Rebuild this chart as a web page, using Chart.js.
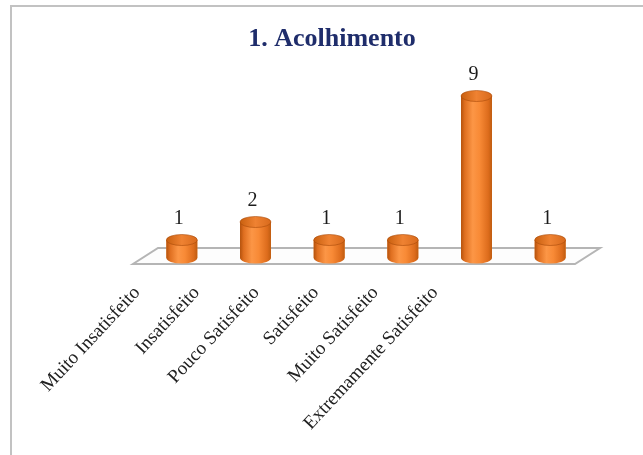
<!DOCTYPE html>
<html>
<head>
<meta charset="utf-8">
<script src="https://cdn.jsdelivr.net/npm/chart.js@4"></script>
<style>
    body { margin: 0; background: #fff; }
    #frame {
        position: absolute; left: 10px; top: 5px; width: 640px; height: 460px;
        border-left: 2px solid #c2c2c2; border-top: 2px solid #c2c2c2;
    }
    #acolhimento { position: absolute; left: 0; top: 0; }
</style>
</head>
<body>
<div id="frame"></div>
<canvas id="acolhimento" width="643" height="455"></canvas>
<script>
const categories = ['Muito Insatisfeito', 'Insatisfeito', 'Pouco Satisfeito', 'Satisfeito', 'Muito Satisfeito', 'Extremamente Satisfeito'];
const respostas = [1, 2, 1, 1, 9, 1];
const chartTitle = '1. Acolhimento';

// floor plate under the cylinders
const floorPlugin = {
    id: 'floor',
    beforeDatasetsDraw(chart) {
        const { ctx, chartArea } = chart;
        const y0 = chart.scales.y.getPixelForValue(0);
        ctx.save();
        ctx.beginPath();
        ctx.moveTo(chartArea.left - 12, y0 + 6);
        ctx.lineTo(chartArea.right - 12, y0 + 6);
        ctx.lineTo(chartArea.right + 13, y0 - 10);
        ctx.lineTo(chartArea.left + 13, y0 - 10);
        ctx.closePath();
        ctx.fillStyle = '#fdfdfd';
        ctx.fill();
        ctx.strokeStyle = '#b5b5b5';
        ctx.lineWidth = 2;
        ctx.stroke();
        ctx.restore();
    }
};

// turns each bar into a shaded cylinder and writes its value above
const cylinderPlugin = {
    id: 'cylinders',
    afterDatasetsDraw(chart) {
        const { ctx } = chart;
        const meta = chart.getDatasetMeta(0);
        ctx.save();
        meta.data.forEach((bar, i) => {
            const { x, y, base, width } = bar.getProps(['x', 'y', 'base', 'width'], true);
            const rx = width / 2;
            const ry = 5.5;
            const left = x - rx;

            const grad = ctx.createLinearGradient(left, 0, left + width, 0);
            grad.addColorStop(0, '#b4520d');
            grad.addColorStop(0.12, '#df6f20');
            grad.addColorStop(0.38, '#fc9646');
            grad.addColorStop(0.6, '#f88a36');
            grad.addColorStop(0.88, '#dd6c1c');
            grad.addColorStop(1, '#bf5c10');

            // body + rounded bottom
            ctx.beginPath();
            ctx.moveTo(left, y);
            ctx.lineTo(left, base);
            ctx.ellipse(x, base, rx, ry, 0, Math.PI, 0, true);
            ctx.lineTo(left + width, y);
            ctx.closePath();
            ctx.fillStyle = grad;
            ctx.fill();

            // top cap
            ctx.beginPath();
            ctx.ellipse(x, y, rx, ry, 0, 0, Math.PI * 2);
            const capGrad = ctx.createLinearGradient(left, 0, left + width, 0);
            capGrad.addColorStop(0, '#c9600f');
            capGrad.addColorStop(0.5, '#ef8232');
            capGrad.addColorStop(1, '#d86a1c');
            ctx.fillStyle = capGrad;
            ctx.fill();
            ctx.strokeStyle = 'rgba(170,75,10,0.6)';
            ctx.lineWidth = 1;
            ctx.stroke();

            ctx.fillStyle = '#1c1c1c';
            ctx.font = '20px "Liberation Serif", "Times New Roman", serif';
            ctx.textAlign = 'center';
            ctx.textBaseline = 'middle';
            ctx.fillText(String(respostas[i]), x - 3, y - 21);
        });
        ctx.restore();
    }
};

new Chart(document.getElementById('acolhimento').getContext('2d'), {
    type: 'bar',
    data: {
        labels: categories,
        datasets: [{
            data: respostas,
            backgroundColor: '#f28a35',
            barPercentage: 0.42,
            categoryPercentage: 1,
        }]
    },
    options: {
        responsive: false,
        animation: false,
        layout: { padding: { left: 21, right: 0, top: 8, bottom: 0 } },
        plugins: {
            legend: { display: false },
            tooltip: { enabled: false },
            title: {
                display: true,
                text: chartTitle,
                color: '#1f2d6b',
                font: { family: '"Liberation Serif", "Times New Roman", serif', size: 26, weight: 'bold' },
                padding: { top: 15.4, bottom: 41.4 },
            },
        },
        scales: {
            x: { display: false },
            // category names sit on their own axis, spaced tighter than the bars
            xl: {
                type: 'linear',
                position: 'bottom',
                offset: false,
                min: 0.134,
                max: 7.55,
                grid: { display: false, drawTicks: false, offset: false },
                border: { display: false },
                afterBuildTicks(scale) {
                    scale.ticks = categories.map((c, i) => ({ value: i }));
                },
                afterFit(scale) { scale.height = 197; },
                ticks: {
                    autoSkip: false,
                    minRotation: 47,
                    maxRotation: 47,
                    padding: 24,
                    color: '#222',
                    font: { family: '"Liberation Serif", "Times New Roman", serif', size: 19 },
                    callback: (v) => categories[v] ?? '',
                },
            },
            y: {
                min: 0,
                max: 9,
                grid: { display: false },
                border: { display: false },
                ticks: { display: false },
                afterFit(scale) { scale.width = 124; },
            },
            yr: {
                position: 'right',
                grid: { display: false },
                border: { display: false },
                ticks: { display: false },
                afterFit(scale) { scale.width = 56; },
            },
        },
    },
    plugins: [floorPlugin, cylinderPlugin],
});
</script>
</body>
</html>
